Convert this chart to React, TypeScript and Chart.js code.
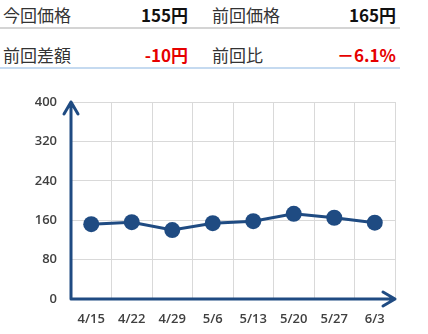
import React, { useEffect, useRef } from "react";
import { Chart, registerables } from "chart.js";

Chart.register(...registerables);

const categories = ["4/15", "4/22", "4/29", "5/6", "5/13", "5/20", "5/27", "6/3"];
const prices = [152, 156, 140, 154, 158, 173, 165, 155];
const yTicks = [0, 80, 160, 240, 320, 400];

const headerRows = [
  ["今回価格", "155円", "前回価格", "165円"],
  ["前回差額", "-10円", "前回比", "－6.1%"],
];

const BLUE = "#1f4b82";
const FONT = "'Noto Sans CJK JP', 'Noto Sans', sans-serif";

const arrowPlugin = {
  id: "arrows",
  afterDatasetsDraw(chart: any) {
    const { ctx, chartArea } = chart;
    const { left, right, top, bottom } = chartArea;
    ctx.save();
    ctx.strokeStyle = BLUE;
    ctx.lineWidth = 3;
    ctx.lineCap = "round";
    ctx.lineJoin = "round";
    ctx.beginPath();
    ctx.moveTo(left, bottom);
    ctx.lineTo(left, top);
    ctx.moveTo(left - 7, top + 12);
    ctx.lineTo(left, top);
    ctx.lineTo(left + 7, top + 12);
    ctx.moveTo(left, bottom);
    ctx.lineTo(right, bottom);
    ctx.moveTo(right - 12, bottom - 7);
    ctx.lineTo(right, bottom);
    ctx.lineTo(right - 12, bottom + 7);
    ctx.stroke();
    ctx.restore();
  },
};

export default function App() {
  const ref = useRef<HTMLCanvasElement>(null);
  useEffect(() => {
    const chart = new Chart(ref.current!, {
      type: "line",
      data: {
        labels: categories,
        datasets: [
          {
            data: prices,
            borderColor: BLUE,
            backgroundColor: BLUE,
            borderWidth: 3,
            pointRadius: 8,
            pointHoverRadius: 8,
            pointBackgroundColor: BLUE,
            pointBorderWidth: 0,
            tension: 0,
          },
        ],
      },
      options: {
        animation: false,
        responsive: false,
        events: [],
        layout: { padding: { top: 22, right: 33, left: 0, bottom: 0 } },
        plugins: { legend: { display: false }, tooltip: { enabled: false } },
        scales: {
          x: {
            offset: true,
            grid: { color: "#d9d9d9", offset: true, drawTicks: false, lineWidth: 1 },
            border: { display: false },
            ticks: { color: "#404040", padding: 12, font: { family: "'Open Sans', sans-serif", size: 13, weight: "600" } },
            afterFit: (s: any) => { s.height = 35; },
          },
          y: {
            min: 0,
            max: 400,
            afterBuildTicks: (s: any) => { s.ticks = yTicks.map((v) => ({ value: v })); },
            grid: { color: "#d9d9d9", drawTicks: false, lineWidth: 1 },
            border: { display: false },
            ticks: { color: "#404040", padding: 14, font: { family: "'Open Sans', sans-serif", size: 13, weight: "600" } },
            afterFit: (s: any) => { s.width = 71; },
          },
        },
      },
      plugins: [arrowPlugin],
    } as any);
    return () => chart.destroy();
  }, []);

  const cell = (text: string, left: number, width: number, top: number, opts: any) => (
    <div
      style={{
        position: "absolute",
        left,
        top,
        width,
        height: 30,
        lineHeight: "30px",
        fontSize: 17,
        fontFamily: FONT,
        whiteSpace: "nowrap",
        ...opts,
      }}
    >
      {text}
    </div>
  );

  return (
    <div style={{ position: "fixed", left: 0, top: 0, width: 428, height: 334, background: "#fff" }}>
      {headerRows.map((row, i) => {
        const top = i === 0 ? 0 : 40;
        const red = i === 1;
        return (
          <React.Fragment key={i}>
            {cell(row[0], 3, 100, top, { color: "#333" })}
            {cell(row[1], 100, 88, top, { textAlign: "right", fontWeight: "bold", color: red ? "#e60000" : "#111" })}
            {cell(row[2], 212, 100, top, { color: "#333" })}
            {cell(row[3], 300, 96, top, { textAlign: "right", fontWeight: "bold", color: red ? "#e60000" : "#111" })}
          </React.Fragment>
        );
      })}
      <div style={{ position: "absolute", left: 0, top: 27, width: 400, height: 2, background: "#d4d4d4" }} />
      <div style={{ position: "absolute", left: 0, top: 67, width: 400, height: 2, background: "#c5daf0" }} />
      <canvas ref={ref} width={428} height={254} style={{ position: "absolute", left: 0, top: 80, width: 428, height: 254 }} />
    </div>
  );
}
